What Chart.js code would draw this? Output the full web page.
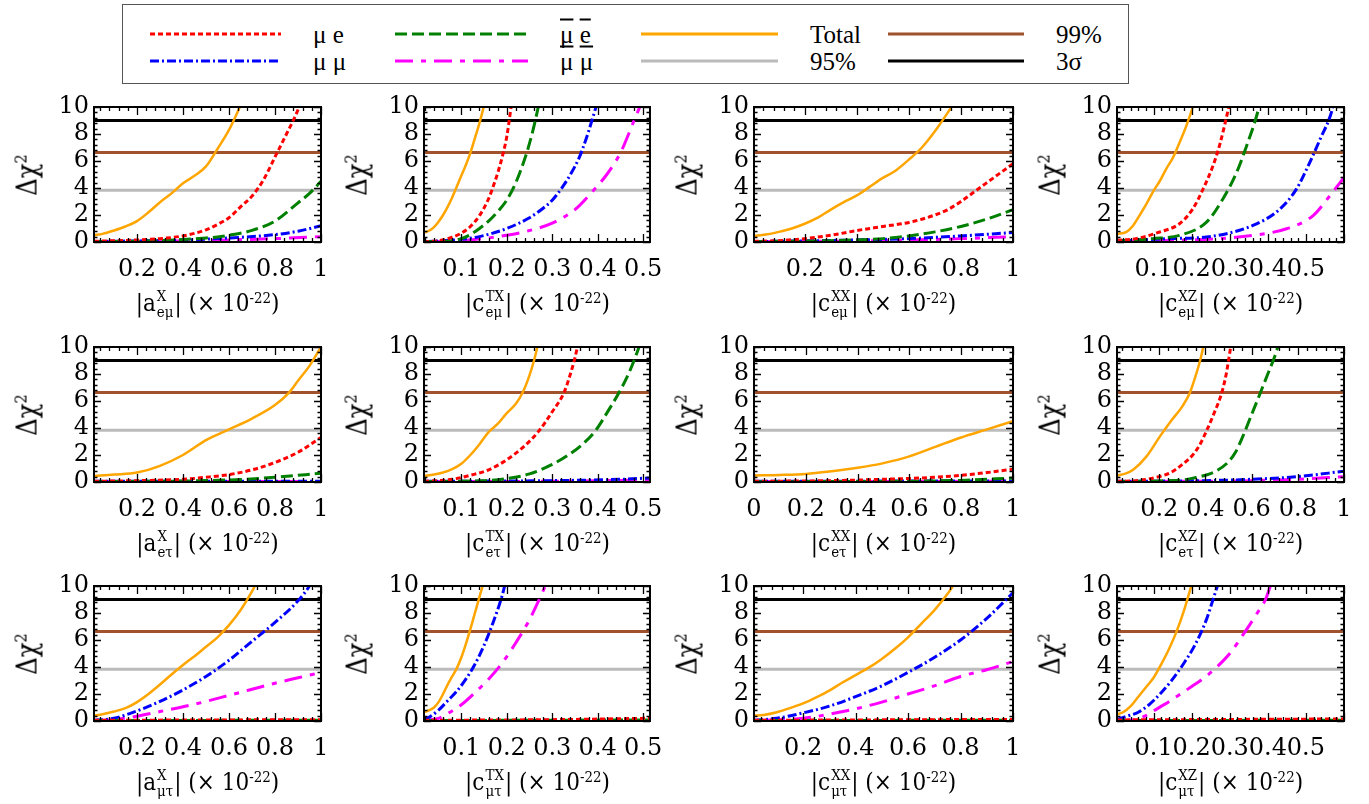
<!DOCTYPE html>
<html>
<head>
<meta charset="utf-8">
<script src="https://cdn.jsdelivr.net/npm/chart.js@4.4.1/dist/chart.umd.min.js"></script>
<style>
  body { margin: 0; background: #fff; width: 1369px; height: 804px; position: relative; overflow: hidden;
         font-family: "DejaVu Serif Condensed", "DejaVu Serif", serif; color: #000; }
  canvas { position: absolute; }
  .yt { position: absolute; font-size: 27px; white-space: nowrap; transform: translate(-50%, -50%) rotate(-90deg); }
  .yt sup { font-size: 0.6em; }
  .xt { position: absolute; font-size: 24px; white-space: nowrap; transform: translate(-50%, -50%); }
  .xt sup { font-size: 0.62em; vertical-align: 0.55em; }
  .ss { display: inline-flex; flex-direction: column; font-size: 0.62em; line-height: 1.1; vertical-align: 0.7em; margin: 0 1px; }
  #legend { position: absolute; left: 122px; top: 4px; width: 1005px; height: 78px; border: 1px solid #555;
            font-family: "Liberation Serif", serif; }
  #legend svg { position: absolute; left: 0; top: 0; }
  .lt { position: absolute; font-size: 25px; line-height: 1; transform: translateY(-50%); white-space: nowrap; }
  .ov { text-decoration: overline; }
</style>
</head>
<body>
<div id="legend">
  <svg width="1005" height="78"></svg>
</div>
<script>
// confidence levels
const CL95 = 3.84, CL99 = 6.63, SIGMA3 = 9.0;

// tick labels
const yTicks = [0, 2, 4, 6, 8, 10];
const xTicksA = [0.2, 0.4, 0.6, 0.8, 1];
const xTicksZ = [0, 0.2, 0.4, 0.6, 0.8, 1];
const xTicksTX = [0.1, 0.2, 0.3, 0.4, 0.5];
const xTicksXZ = [0.1, 0.2, 0.3, 0.4, 0.5];

// ---- row 1 : e-mu ----
const aXem_total = [[0.013,0.5],[0.05,0.6],[0.1,0.85],[0.15,1.15],[0.2,1.55],[0.25,2.2],[0.3,2.95],[0.35,3.6],[0.4,4.35],[0.45,4.9],[0.5,5.6],[0.55,6.9],[0.6,8.3],[0.65,10.1]];
const aXem_mue = [[0.013,0.05],[0.2,0.15],[0.3,0.25],[0.4,0.45],[0.5,0.9],[0.55,1.3],[0.6,1.8],[0.65,2.6],[0.7,3.4],[0.75,4.6],[0.8,6.3],[0.85,8.0],[0.9,9.8],[0.91,10.3]];
const aXem_mubeb = [[0.013,0.03],[0.3,0.1],[0.5,0.3],[0.55,0.37],[0.6,0.5],[0.7,0.86],[0.8,1.55],[0.9,2.9],[0.95,3.6],[1.0,4.5]];
const aXem_mumu = [[0.013,0.03],[0.4,0.15],[0.6,0.3],[0.8,0.55],[0.9,0.8],[1.0,1.2]];
const aXem_mubmub = [[0.013,0.02],[0.5,0.12],[0.8,0.25],[1.0,0.4]];

const cTXem_total = [[0.018,0.7],[0.03,0.85],[0.04,1.1],[0.05,1.5],[0.06,2.0],[0.07,2.6],[0.08,3.3],[0.09,4.1],[0.1,4.9],[0.11,5.7],[0.12,6.6],[0.13,7.7],[0.14,8.8],[0.15,10.1]];
const cTXem_mue = [[0.018,0.02],[0.05,0.1],[0.08,0.35],[0.1,0.65],[0.12,1.15],[0.14,1.95],[0.16,3.2],[0.17,4.1],[0.18,5.1],[0.19,6.3],[0.2,7.8],[0.21,10.1]];
const cTXem_mubeb = [[0.018,0.02],[0.08,0.1],[0.1,0.25],[0.12,0.55],[0.14,1.0],[0.16,1.55],[0.18,2.25],[0.2,3.1],[0.22,4.4],[0.24,6.2],[0.25,7.3],[0.26,8.6],[0.27,10.1]];
const cTXem_mumu = [[0.018,0.02],[0.1,0.2],[0.14,0.4],[0.2,1.0],[0.25,1.8],[0.28,2.5],[0.3,3.1],[0.32,3.95],[0.34,5.0],[0.36,6.3],[0.37,7.2],[0.38,8.2],[0.39,9.3],[0.398,10.2]];
const cTXem_mubmub = [[0.018,0.02],[0.1,0.1],[0.2,0.5],[0.25,0.85],[0.3,1.4],[0.35,2.4],[0.39,3.8],[0.42,5.0],[0.45,6.6],[0.48,9.0],[0.495,10.2]];

const cXXem_total = [[0.005,0.45],[0.05,0.55],[0.1,0.75],[0.15,1.0],[0.2,1.35],[0.25,1.8],[0.3,2.4],[0.35,2.95],[0.4,3.45],[0.45,4.1],[0.5,4.75],[0.55,5.3],[0.6,6.1],[0.65,7.0],[0.7,8.2],[0.75,9.6],[0.77,10.2]];
const cXXem_mue = [[0.005,0.05],[0.1,0.1],[0.2,0.25],[0.3,0.5],[0.4,0.85],[0.5,1.15],[0.6,1.45],[0.7,2.0],[0.75,2.4],[0.8,3.0],[0.85,3.7],[0.9,4.4],[0.95,5.1],[1.0,5.8]];
const cXXem_mubeb = [[0.005,0.03],[0.3,0.1],[0.5,0.25],[0.6,0.45],[0.7,0.75],[0.8,1.15],[0.9,1.7],[1.0,2.4]];
const cXXem_mumu = [[0.005,0.03],[0.4,0.15],[0.6,0.25],[0.8,0.45],[1.0,0.7]];
const cXXem_mubmub = [[0.005,0.02],[0.5,0.1],[0.8,0.25],[1.0,0.4]];

const cXZem_total = [[0.004,0.6],[0.028,0.73],[0.046,1.2],[0.063,1.96],[0.081,2.8],[0.098,3.7],[0.116,4.5],[0.133,5.4],[0.151,6.25],[0.168,7.35],[0.186,8.6],[0.203,10.0],[0.206,10.3]];
const cXZem_mue = [[0.004,0.12],[0.054,0.25],[0.116,0.74],[0.168,1.35],[0.203,2.45],[0.23,3.92],[0.256,5.64],[0.274,7.23],[0.296,9.8],[0.3,10.3]];
const cXZem_mubeb = [[0.004,0.07],[0.098,0.25],[0.168,0.49],[0.239,1.47],[0.282,3.19],[0.318,5.15],[0.344,7.1],[0.375,9.8],[0.378,10.2]];
const cXZem_mumu = [[0.004,0.07],[0.142,0.25],[0.239,0.37],[0.361,1.23],[0.432,2.45],[0.475,3.92],[0.51,5.88],[0.537,7.6],[0.568,9.7],[0.572,10.2]];
const cXZem_mubmub = [[0.004,0.05],[0.274,0.25],[0.361,0.49],[0.449,0.98],[0.519,1.96],[0.563,3.43],[0.6,4.78]];

// ---- row 2 : e-tau ----
const aXet_total = [[0.013,0.45],[0.1,0.55],[0.2,0.7],[0.3,1.2],[0.4,2.0],[0.5,3.1],[0.6,3.9],[0.7,4.7],[0.8,5.7],[0.86,6.6],[0.9,7.5],[0.95,8.6],[1.0,10.0]];
const aXet_mue = [[0.013,0.05],[0.2,0.1],[0.4,0.2],[0.5,0.35],[0.6,0.55],[0.7,0.9],[0.8,1.45],[0.9,2.2],[1.0,3.3]];
const aXet_mubeb = [[0.013,0.02],[0.6,0.15],[0.8,0.35],[1.0,0.65]];
const aXet_mumu = [[0.013,0.05],[1.0,0.06]];
const aXet_mubmub = [[0.013,0.03],[1.0,0.04]];

const cTXet_total = [[0.018,0.45],[0.04,0.55],[0.06,0.7],[0.08,0.95],[0.1,1.35],[0.12,2.0],[0.14,2.8],[0.16,3.7],[0.18,4.3],[0.2,5.1],[0.22,5.8],[0.235,6.63],[0.25,7.9],[0.26,9.0],[0.268,10.1]];
const cTXet_mue = [[0.018,0.05],[0.08,0.2],[0.12,0.5],[0.16,0.9],[0.2,1.65],[0.24,2.7],[0.27,3.75],[0.3,5.2],[0.326,6.63],[0.34,8.0],[0.35,9.2],[0.356,10.1]];
const cTXet_mubeb = [[0.018,0.03],[0.15,0.1],[0.2,0.25],[0.25,0.6],[0.3,1.3],[0.34,2.1],[0.37,2.9],[0.396,3.84],[0.42,5.1],[0.447,6.63],[0.465,7.8],[0.48,9.0],[0.492,10.1]];
const cTXet_mumu = [[0.018,0.05],[0.3,0.1],[0.45,0.2],[0.515,0.3]];
const cTXet_mubmub = [[0.018,0.03],[0.3,0.06],[0.515,0.15]];

const cXXet_total = [[0,0.48],[0.1,0.52],[0.2,0.6],[0.3,0.8],[0.4,1.05],[0.5,1.4],[0.6,1.9],[0.7,2.6],[0.8,3.3],[0.9,3.9],[1.0,4.5]];
const cXXet_mue = [[0,0.05],[0.3,0.1],[0.5,0.2],[0.7,0.35],[0.8,0.5],[0.9,0.7],[1.0,0.95]];
const cXXet_mubeb = [[0,0.02],[0.6,0.06],[0.8,0.12],[1.0,0.3]];
const cXXet_mumu = [[0,0.05],[1.0,0.08]];
const cXXet_mubmub = [[0,0.03],[1.0,0.05]];

const cXZet_total = [[0.017,0.5],[0.05,0.6],[0.087,0.91],[0.145,1.9],[0.203,3.38],[0.25,4.5],[0.3,5.6],[0.333,6.63],[0.36,8.0],[0.377,9.0],[0.392,10.1]];
const cXZet_mue = [[0.017,0.05],[0.1,0.1],[0.2,0.4],[0.25,0.7],[0.3,1.3],[0.35,2.1],[0.38,2.9],[0.406,3.84],[0.44,5.2],[0.471,6.63],[0.49,8.0],[0.5,9.0],[0.51,10.1]];
const cXZet_mubeb = [[0.017,0.03],[0.2,0.08],[0.3,0.15],[0.35,0.3],[0.4,0.5],[0.45,0.85],[0.5,1.5],[0.53,2.2],[0.56,3.3],[0.6,5.0],[0.64,6.7],[0.67,8.0],[0.7,9.3],[0.715,10.1]];
const cXZet_mumu = [[0.017,0.05],[0.4,0.1],[0.6,0.2],[0.8,0.4],[1.0,0.8]];
const cXZet_mubmub = [[0.017,0.03],[0.6,0.1],[0.8,0.2],[1.0,0.4]];

// ---- row 3 : mu-tau ----
const aXmt_total = [[0.013,0.4],[0.05,0.5],[0.1,0.7],[0.15,0.95],[0.2,1.4],[0.25,2.0],[0.3,2.7],[0.35,3.45],[0.4,4.15],[0.45,4.8],[0.5,5.5],[0.55,6.2],[0.6,7.1],[0.65,8.2],[0.7,9.6],[0.715,10.1]];
const aXmt_mue = [[0.013,0.05],[1.0,0.1]];
const aXmt_mubeb = [[0.013,0.03],[1.0,0.06]];
const aXmt_mumu = [[0.013,0.05],[0.1,0.2],[0.2,0.75],[0.3,1.45],[0.4,2.3],[0.5,3.3],[0.6,4.5],[0.7,5.9],[0.8,7.3],[0.9,8.9],[0.95,10.0],[0.96,10.3]];
const aXmt_mubmub = [[0.013,0.02],[0.1,0.1],[0.2,0.35],[0.3,0.7],[0.4,1.05],[0.5,1.45],[0.6,1.9],[0.7,2.35],[0.8,2.8],[0.9,3.2],[1.0,3.6]];

const cTXmt_total = [[0.018,0.65],[0.03,0.8],[0.04,1.0],[0.05,1.4],[0.06,2.0],[0.07,2.7],[0.08,3.3],[0.09,3.9],[0.1,4.7],[0.11,5.7],[0.12,6.8],[0.13,8.0],[0.14,9.2],[0.148,10.1]];
const cTXmt_mue = [[0.018,0.05],[0.3,0.1],[0.515,0.2]];
const cTXmt_mubeb = [[0.018,0.03],[0.515,0.08]];
const cTXmt_mumu = [[0.018,0.1],[0.03,0.3],[0.05,0.8],[0.07,1.5],[0.09,2.2],[0.11,3.1],[0.13,4.2],[0.15,5.6],[0.17,7.3],[0.19,9.3],[0.196,10.1]];
const cTXmt_mubmub = [[0.018,0.05],[0.05,0.2],[0.07,0.55],[0.1,1.2],[0.13,2.1],[0.16,3.1],[0.19,4.3],[0.22,5.8],[0.25,7.5],[0.27,8.9],[0.286,10.1]];

const cXXmt_total = [[0.013,0.4],[0.05,0.45],[0.1,0.65],[0.15,0.95],[0.2,1.3],[0.25,1.75],[0.3,2.25],[0.35,2.85],[0.4,3.4],[0.45,3.95],[0.5,4.6],[0.55,5.35],[0.6,6.2],[0.65,7.2],[0.7,8.2],[0.75,9.4],[0.775,10.1]];
const cXXmt_mue = [[0.013,0.05],[1.0,0.12]];
const cXXmt_mubeb = [[0.013,0.03],[1.0,0.06]];
const cXXmt_mumu = [[0.013,0.05],[0.1,0.2],[0.2,0.6],[0.3,1.1],[0.4,1.8],[0.5,2.6],[0.6,3.6],[0.7,4.7],[0.8,6.0],[0.9,7.6],[1.0,9.5]];
const cXXmt_mubmub = [[0.013,0.02],[0.2,0.2],[0.3,0.5],[0.4,0.9],[0.5,1.4],[0.6,2.0],[0.7,2.6],[0.8,3.3],[0.9,3.8],[1.0,4.4]];

const cXZmt_total = [[0.004,0.5],[0.02,0.65],[0.04,1.1],[0.06,1.8],[0.08,2.5],[0.1,3.2],[0.12,4.2],[0.14,5.3],[0.16,6.6],[0.18,8.2],[0.2,10.1]];
const cXZmt_mue = [[0.004,0.08],[0.6,0.15]];
const cXZmt_mubeb = [[0.004,0.03],[0.6,0.06]];
const cXZmt_mumu = [[0.004,0.1],[0.03,0.35],[0.06,0.65],[0.09,1.25],[0.12,2.1],[0.15,3.1],[0.18,4.3],[0.21,5.7],[0.24,7.6],[0.255,8.9],[0.27,10.2]];
const cXZmt_mubmub = [[0.004,0.02],[0.05,0.1],[0.08,0.4],[0.1,0.75],[0.13,1.25],[0.16,1.8],[0.2,2.55],[0.24,3.35],[0.27,4.1],[0.3,5.0],[0.34,6.6],[0.37,7.9],[0.394,9.0],[0.408,10.1]];

// series styles: total, mu e, mubar ebar, mu mu, mubar mubar
const STYLES = [
  { color: '#ffa500', dash: [], width: 2.5, order: 0 },
  { color: '#ff0000', dash: [5, 3], width: 3, order: 1 },
  { color: '#008000', dash: [12, 5], width: 3, order: 2 },
  { color: '#0000ff', dash: [9, 3, 2, 3], width: 3, order: 3 },
  { color: '#ff00ff', dash: [18, 8, 5, 8], width: 3, order: 4 }
];
const REFS = [
  { y: CL95, color: '#bbbbbb' },
  { y: CL99, color: '#a0522d' },
  { y: SIGMA3, color: '#000000' }
];

// layout
const COL_L = [94, 424, 754, 1117];
const COL_W = [227, 227, 259, 227];
const ROW_T = [107, 347, 586];
const PLOT_H = 135;
const PAD_L = 70, PAD_T = 20, PAD_R = 25, PAD_B = 60;

const panels = [
  { r: 0, c: 0, sym: 'a', sup: 'X', sub: 'eμ', min: 0.013, max: 1, xt: xTicksA, minor: 0.04, s: [aXem_total, aXem_mue, aXem_mubeb, aXem_mumu, aXem_mubmub] },
  { r: 0, c: 1, sym: 'c', sup: 'TX', sub: 'eμ', min: 0.018, max: 0.515, xt: xTicksTX, minor: 0.02, s: [cTXem_total, cTXem_mue, cTXem_mubeb, cTXem_mumu, cTXem_mubmub] },
  { r: 0, c: 2, sym: 'c', sup: 'XX', sub: 'eμ', min: 0.005, max: 1, xt: xTicksA, minor: 0.04, s: [cXXem_total, cXXem_mue, cXXem_mubeb, cXXem_mumu, cXXem_mubmub] },
  { r: 0, c: 3, sym: 'c', sup: 'XZ', sub: 'eμ', min: 0.004, max: 0.6, xt: xTicksXZ, minor: 0.02, s: [cXZem_total, cXZem_mue, cXZem_mubeb, cXZem_mumu, cXZem_mubmub] },
  { r: 1, c: 0, sym: 'a', sup: 'X', sub: 'eτ', min: 0.013, max: 1, xt: xTicksA, minor: 0.04, s: [aXet_total, aXet_mue, aXet_mubeb, aXet_mumu, aXet_mubmub] },
  { r: 1, c: 1, sym: 'c', sup: 'TX', sub: 'eτ', min: 0.018, max: 0.515, xt: xTicksTX, minor: 0.02, s: [cTXet_total, cTXet_mue, cTXet_mubeb, cTXet_mumu, cTXet_mubmub] },
  { r: 1, c: 2, sym: 'c', sup: 'XX', sub: 'eτ', min: 0, max: 1, xt: xTicksZ, minor: 0.04, s: [cXXet_total, cXXet_mue, cXXet_mubeb, cXXet_mumu, cXXet_mubmub] },
  { r: 1, c: 3, sym: 'c', sup: 'XZ', sub: 'eτ', min: 0.017, max: 1, xt: xTicksA, minor: 0.04, s: [cXZet_total, cXZet_mue, cXZet_mubeb, cXZet_mumu, cXZet_mubmub] },
  { r: 2, c: 0, sym: 'a', sup: 'X', sub: 'μτ', min: 0.013, max: 1, xt: xTicksA, minor: 0.04, s: [aXmt_total, aXmt_mue, aXmt_mubeb, aXmt_mumu, aXmt_mubmub] },
  { r: 2, c: 1, sym: 'c', sup: 'TX', sub: 'μτ', min: 0.018, max: 0.515, xt: xTicksTX, minor: 0.02, s: [cTXmt_total, cTXmt_mue, cTXmt_mubeb, cTXmt_mumu, cTXmt_mubmub] },
  { r: 2, c: 2, sym: 'c', sup: 'XX', sub: 'μτ', min: 0.013, max: 1, xt: xTicksA, minor: 0.04, s: [cXXmt_total, cXXmt_mue, cXXmt_mubeb, cXXmt_mumu, cXXmt_mubmub] },
  { r: 2, c: 3, sym: 'c', sup: 'XZ', sub: 'μτ', min: 0.004, max: 0.6, xt: xTicksXZ, minor: 0.02, s: [cXZmt_total, cXZmt_mue, cXZmt_mubeb, cXZmt_mumu, cXZmt_mubmub] }
];

Chart.defaults.font.family = "'DejaVu Serif', serif";
Chart.defaults.color = '#000';

// frame with inward ticks on all four sides, ROOT style
const frameTicks = {
  id: 'frameTicks',
  afterDatasetsDraw(chart, args, opts) {
    const { ctx, chartArea: a, scales: { x, y } } = chart;
    ctx.save();
    ctx.strokeStyle = '#000';
    ctx.lineWidth = 1.3;
    ctx.beginPath();
    const eps = 1e-9;
    for (let v = Math.ceil(x.min / opts.xMinor - eps) * opts.xMinor; v <= x.max + eps; v += opts.xMinor) {
      const px = Math.round(x.getPixelForValue(v)) + 0.5;
      const isMajor = Math.abs(v / opts.xMajor - Math.round(v / opts.xMajor)) < 1e-6;
      const len = isMajor ? 8 : 4;
      ctx.moveTo(px, a.bottom); ctx.lineTo(px, a.bottom - len);
      ctx.moveTo(px, a.top); ctx.lineTo(px, a.top + len);
    }
    for (let v = 0; v <= y.max + eps; v += opts.yMinor) {
      const py = Math.round(y.getPixelForValue(v)) + 0.5;
      const isMajor = Math.abs(v / 2 - Math.round(v / 2)) < 1e-6;
      const len = isMajor ? 7 : 3.5;
      ctx.moveTo(a.left, py); ctx.lineTo(a.left + len, py);
      ctx.moveTo(a.right, py); ctx.lineTo(a.right - len, py);
    }
    ctx.stroke();
    ctx.lineWidth = 2;
    ctx.strokeRect(a.left, a.top, a.right - a.left, a.bottom - a.top);
    ctx.restore();
  }
};

const fmt = v => String(Math.round(v * 100) / 100);

panels.forEach(p => {
  const left = COL_L[p.c], top = ROW_T[p.r], w = COL_W[p.c];
  const cv = document.createElement('canvas');
  cv.width = w + PAD_L + PAD_R;
  cv.height = PLOT_H + PAD_T + PAD_B;
  cv.style.left = (left - PAD_L) + 'px';
  cv.style.top = (top - PAD_T) + 'px';
  document.body.appendChild(cv);

  const datasets = [];
  p.s.forEach((pts, i) => {
    const st = STYLES[i];
    datasets.push({
      data: pts.map(([x, y]) => ({ x, y })),
      borderColor: st.color, borderWidth: st.width, borderDash: st.dash,
      order: st.order, pointRadius: 0, fill: false, cubicInterpolationMode: 'monotone'
    });
  });
  REFS.forEach((rf, i) => {
    datasets.push({
      data: [{ x: p.min, y: rf.y }, { x: p.max, y: rf.y }],
      borderColor: rf.color, borderWidth: 3, order: 10 + i, pointRadius: 0, fill: false
    });
  });

  new Chart(cv, {
    type: 'line',
    data: { datasets },
    options: {
      responsive: false,
      animation: false,
      events: [],
      layout: { padding: { top: PAD_T, right: PAD_R, left: 0, bottom: 0 } },
      plugins: {
        legend: { display: false },
        tooltip: { enabled: false },
        frameTicks: { xMajor: p.xt[1] - p.xt[0], xMinor: p.minor, yMinor: 0.4 }
      },
      scales: {
        x: {
          type: 'linear', min: p.min, max: p.max,
          grid: { display: false, drawTicks: false }, border: { display: false },
          afterFit: s => { s.height = PAD_B; },
          afterBuildTicks: s => { s.ticks = p.xt.map(v => ({ value: v })); },
          ticks: { font: { size: 24 }, color: '#000', padding: 13, maxRotation: 0, autoSkip: false, callback: v => fmt(v) }
        },
        y: {
          type: 'linear', min: 0, max: 10,
          grid: { display: false, drawTicks: false }, border: { display: false },
          afterFit: s => { s.width = PAD_L; },
          afterBuildTicks: s => { s.ticks = yTicks.map(v => ({ value: v })); },
          ticks: { font: { size: 24 }, color: '#000', padding: 5, autoSkip: false, callback: v => fmt(v) }
        }
      }
    },
    plugins: [frameTicks]
  });

  const yt = document.createElement('div');
  yt.className = 'yt';
  yt.style.left = (left - 67) + 'px';
  yt.style.top = (top + PLOT_H / 2) + 'px';
  yt.innerHTML = 'Δχ<sup>2</sup>';
  document.body.appendChild(yt);

  const xt = document.createElement('div');
  xt.className = 'xt';
  xt.style.left = (left + w / 2) + 'px';
  xt.style.top = (top + PLOT_H + 62) + 'px';
  xt.innerHTML = '|' + p.sym + '<span class="ss"><span>' + p.sup + '</span><span>' + p.sub + '</span></span>| (× 10<sup>-22</sup>)';
  document.body.appendChild(xt);
});

// legend
const legendItems = [
  { x1: 27, x2: 158, y: 29, color: '#ff0000', dash: '5,3', label: 'μ e' },
  { x1: 27, x2: 158, y: 56, color: '#0000ff', dash: '9,3,2,3', label: 'μ μ' },
  { x1: 272, x2: 405, y: 29, color: '#008000', dash: '12,5', label: '<span class="ov">μ</span> <span class="ov">e</span>' },
  { x1: 272, x2: 405, y: 56, color: '#ff00ff', dash: '18,8,5,8', label: '<span class="ov">μ</span> <span class="ov">μ</span>' },
  { x1: 518, x2: 655, y: 29, color: '#ffa500', dash: '', label: 'Total' },
  { x1: 518, x2: 655, y: 56, color: '#bbbbbb', dash: '', label: '95%' },
  { x1: 765, x2: 901, y: 29, color: '#a0522d', dash: '', label: '99%' },
  { x1: 765, x2: 901, y: 56, color: '#000000', dash: '', label: '3σ' }
];
const svg = document.querySelector('#legend svg');
const leg = document.getElementById('legend');
legendItems.forEach(it => {
  const ln = document.createElementNS('http://www.w3.org/2000/svg', 'line');
  ln.setAttribute('x1', it.x1); ln.setAttribute('x2', it.x2);
  ln.setAttribute('y1', it.y); ln.setAttribute('y2', it.y);
  ln.setAttribute('stroke', it.color); ln.setAttribute('stroke-width', 3);
  if (it.dash) ln.setAttribute('stroke-dasharray', it.dash);
  svg.appendChild(ln);
  const t = document.createElement('div');
  t.className = 'lt';
  t.style.left = (it.x2 + 32) + 'px';
  t.style.top = it.y + 'px';
  t.innerHTML = it.label;
  leg.appendChild(t);
});
</script>
</body>
</html>
